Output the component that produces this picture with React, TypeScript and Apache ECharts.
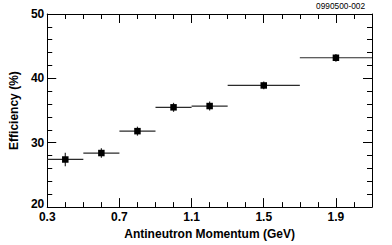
import React, { useEffect, useRef } from "react";
import * as echarts from "echarts";

const xCenters = [0.4, 0.6, 0.8, 1.0, 1.2, 1.5, 1.9];
const xLow = [0.3, 0.5, 0.7, 0.9, 1.1, 1.3, 1.7];
const xHigh = [0.5, 0.7, 0.9, 1.1, 1.3, 1.7, 2.1];
const yValues = [27.4, 28.4, 31.8, 35.5, 35.7, 38.9, 43.2];
const yErr = [1.05, 0.75, 0.7, 0.7, 0.7, 0.6, 0.6];

const FONT = "Liberation Sans, Arial, Helvetica, sans-serif";

export default function App() {
  const ref = useRef<HTMLDivElement>(null);
  useEffect(() => {
    if (!ref.current) return;
    const chart = echarts.init(ref.current, null, { renderer: "svg" });
    const data = xCenters.map((x, i) => [x, yValues[i], xLow[i], xHigh[i], yValues[i] - yErr[i], yValues[i] + yErr[i]]);
    const axisBase = {
      axisLine: { show: true, onZero: false, lineStyle: { color: "#000", width: 1 } },
      splitLine: { show: false },
    };
    const tick = { show: true, inside: true, length: 9, lineStyle: { color: "#000" } };
    chart.setOption({
      animation: false,
      backgroundColor: "#fff",
      title: {
        text: "0990500-002",
        right: 27,
        top: 2,
        padding: 0,
        textStyle: { fontFamily: FONT, fontSize: 8.3, fontWeight: "normal", color: "#000" },
      },
      grid: { left: 43, right: 20, top: 14, bottom: 32 },
      xAxis: [
        {
          ...axisBase,
          type: "value",
          min: 0.3,
          max: 2.1,
          interval: 0.4,
          position: "bottom",
          name: "Antineutron Momentum (GeV)",
          nameLocation: "middle",
          nameGap: 19,
          nameTextStyle: { fontFamily: FONT, fontSize: 12, fontWeight: "bold", color: "#000" },
          axisTick: tick,
          minorTick: { show: true, splitNumber: 4, length: 5, lineStyle: { color: "#000" } },
          axisLabel: {
            show: true,
            margin: 4,
            fontFamily: FONT,
            fontSize: 12,
            fontWeight: "bold",
            color: "#000",
            lineHeight: 12,
            formatter: (v: number) => v.toFixed(1),
            showMaxLabel: false,
          },
        },
        {
          ...axisBase,
          type: "value",
          min: 0.3,
          max: 2.1,
          interval: 0.4,
          position: "top",
          axisTick: tick,
          minorTick: { show: true, splitNumber: 4, length: 5, lineStyle: { color: "#000" } },
          axisLabel: { show: false },
        },
      ],
      yAxis: [
        {
          ...axisBase,
          type: "value",
          min: 20,
          max: 50,
          interval: 10,
          position: "left",
          name: "Efficiency (%)",
          nameLocation: "middle",
          nameGap: 22,
          nameTextStyle: { fontFamily: FONT, fontSize: 12, fontWeight: "bold", color: "#000" },
          axisTick: tick,
          minorTick: { show: true, splitNumber: 5, length: 5, lineStyle: { color: "#000" } },
          axisLabel: {
            show: true,
            margin: 3,
            fontFamily: FONT,
            fontSize: 12,
            fontWeight: "bold",
            color: "#000",
            lineHeight: 12,
            formatter: (v: number) => (v === 20 ? "{lo|20}" : String(v)),
            rich: {
              lo: { fontFamily: FONT, fontSize: 12, fontWeight: "bold", color: "#000", padding: [0, 0, 7, 0] },
            },
          },
        },
        {
          ...axisBase,
          type: "value",
          min: 20,
          max: 50,
          interval: 10,
          position: "right",
          axisTick: tick,
          minorTick: { show: true, splitNumber: 5, length: 5, lineStyle: { color: "#000" } },
          axisLabel: { show: false },
        },
      ],
      series: [
        {
          type: "custom",
          xAxisIndex: 0,
          yAxisIndex: 0,
          data,
          renderItem: (params: any, api: any) => {
            const c = api.coord([api.value(0), api.value(1)]);
            const l = api.coord([api.value(2), api.value(1)]);
            const r = api.coord([api.value(3), api.value(1)]);
            const lo = api.coord([api.value(0), api.value(4)]);
            const hi = api.coord([api.value(0), api.value(5)]);
            const s = 6.5;
            return {
              type: "group",
              children: [
                {
                  type: "line",
                  shape: { x1: l[0], y1: l[1], x2: r[0], y2: r[1] },
                  style: { stroke: "#2a2a2a", lineWidth: 1.2 },
                },
                {
                  type: "line",
                  shape: { x1: lo[0], y1: lo[1], x2: hi[0], y2: hi[1] },
                  style: { stroke: "#2a2a2a", lineWidth: 1.2 },
                },
                {
                  type: "rect",
                  shape: { x: c[0] - s / 2, y: c[1] - s / 2, width: s, height: s },
                  style: { fill: "#000" },
                },
              ],
            };
          },
        },
      ],
    });
    return () => chart.dispose();
  }, []);
  return <div ref={ref} style={{ width: 392, height: 245, position: "absolute", left: 0, top: 0 }} />;
}
